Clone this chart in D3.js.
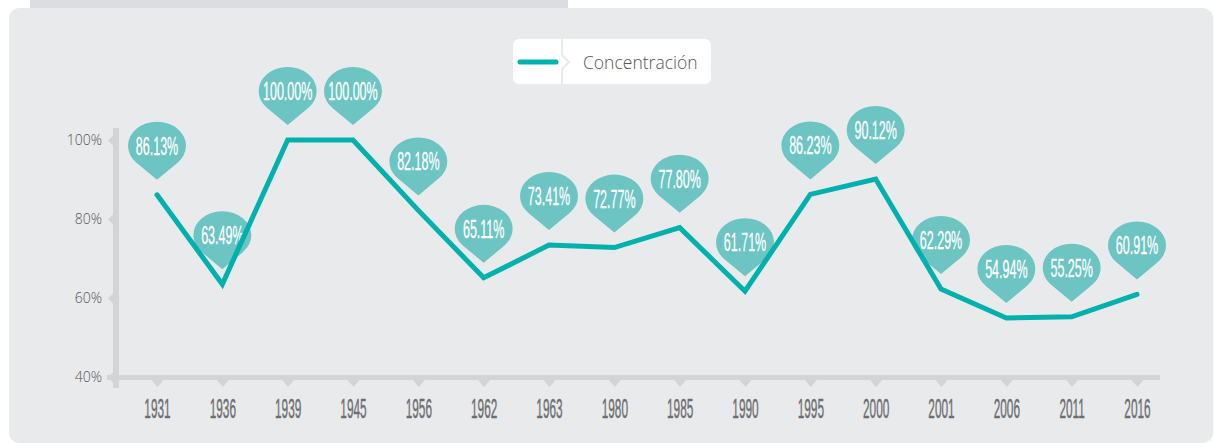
<!DOCTYPE html>
<html>
<head>
<meta charset="utf-8">
<script src="https://cdn.jsdelivr.net/npm/d3@7"></script>
<style>
  html, body { margin: 0; padding: 0; background: #ffffff; }
  svg { display: block; }
</style>
</head>
<body>
<svg id="chart" width="1214" height="443"></svg>
<script>
// Concentration by year
const years = ["1931", "1936", "1939", "1945", "1956", "1962", "1963", "1980",
               "1985", "1990", "1995", "2000", "2001", "2006", "2011", "2016"];
const concentracion = [86.13, 63.49, 100.00, 100.00, 82.18, 65.11, 73.41, 72.77,
                       77.80, 61.71, 86.23, 90.12, 62.29, 54.94, 55.25, 60.91];
const yTickValues = [40, 60, 80, 100];
const seriesName = "Concentración";

const teal = "#00b1ad";
const pinFill = "#6cc4c3";
const axisGrey = "#d3d4d6";
const panelFill = "#e9eaec";

const svg = d3.select("#chart");

// page background pieces
svg.append("rect").attr("x", 30).attr("y", -10).attr("width", 538).attr("height", 18)
  .attr("fill", "#dddde1");
svg.append("rect").attr("x", 9).attr("y", 8).attr("width", 1204).attr("height", 435)
  .attr("rx", 10).attr("fill", panelFill);

const x = d3.scalePoint().domain(years).range([157, 1137]);
const y = d3.scaleLinear().domain([40, 100]).range([377, 140]);

// axis bars
svg.append("rect").attr("x", 113).attr("y", 128).attr("width", 6).attr("height", 260)
  .attr("fill", axisGrey);
svg.append("rect").attr("x", 107).attr("y", 375).attr("width", 1053).attr("height", 5)
  .attr("fill", axisGrey);

// y axis ticks and labels
const yAxis = d3.axisLeft(y).tickValues(yTickValues).tickSize(0).tickPadding(11)
  .tickFormat(d => d + "%");
const gy = svg.append("g").attr("transform", "translate(113,0)").call(yAxis);
gy.select(".domain").remove();
gy.selectAll(".tick text")
  .attr("font-family", "'Open Sans', sans-serif")
  .attr("font-weight", 300)
  .attr("font-size", 14)
  .attr("fill", "#555555");
gy.selectAll(".tick").append("path")
  .attr("d", "M0,-5 L-5,0 L0,5 Z")
  .attr("fill", axisGrey);

// x axis ticks and labels
const xAxis = d3.axisBottom(x).tickSize(0).tickPadding(0);
const gx = svg.append("g").attr("transform", "translate(0,380)").call(xAxis);
gx.select(".domain").remove();
gx.selectAll(".tick").append("path")
  .attr("d", "M-6,0 L0,7 L6,0 Z")
  .attr("fill", axisGrey);
gx.selectAll(".tick text")
  .attr("y", 0).attr("dy", null)
  .attr("transform", "translate(0,38) scale(0.43,1)")
  .attr("font-family", "'Liberation Sans', Arial, sans-serif")
  .attr("font-size", 27.5)
  .attr("fill", "#6d6e71")
  .attr("stroke", "#6d6e71")
  .attr("stroke-width", 0.4);

// value pins
const rx = 29, ry = 24, centerAbove = 34, lift = 15;
function pinPath() {
  const D = centerAbove * rx / ry;
  const ty = (rx * rx / D) * ry / rx;
  const tx = rx * Math.sqrt(1 - (rx / D) * (rx / D));
  return `M0,0 L${tx},${-centerAbove + ty} A${rx},${ry} 0 1 0 ${-tx},${-centerAbove + ty} Z`;
}
const pins = svg.append("g").selectAll("g").data(years).join("g")
  .attr("transform", (d, i) => `translate(${x(d)},${y(concentracion[i]) - lift})`);
pins.append("path").attr("d", pinPath()).attr("fill", pinFill);
pins.append("text")
  .attr("transform", `translate(0,${-centerAbove + 9}) scale(0.5,1)`)
  .attr("text-anchor", "middle")
  .attr("font-family", "'Liberation Sans', Arial, sans-serif")
  .attr("font-size", 25)
  .attr("fill", "#ffffff")
  .attr("stroke", "#ffffff")
  .attr("stroke-width", 0.3)
  .text((d, i) => d3.format(".2f")(concentracion[i]) + "%");

// series line
const line = d3.line().x((d, i) => x(years[i])).y(d => y(d));
svg.append("path").datum(concentracion)
  .attr("d", line)
  .attr("fill", "none")
  .attr("stroke", teal)
  .attr("stroke-width", 5)
  .attr("stroke-linejoin", "miter")
  .attr("stroke-linecap", "round");

// legend
const lg = svg.append("g");
lg.append("rect").attr("x", 513).attr("y", 39).attr("width", 198).attr("height", 45)
  .attr("rx", 6).attr("fill", "#ffffff");
lg.append("path").attr("d", "M562,39 L562,55 L569,62 L562,69 L562,84")
  .attr("fill", "none").attr("stroke", panelFill).attr("stroke-width", 2);
lg.append("line").attr("x1", 520).attr("x2", 556).attr("y1", 62).attr("y2", 62)
  .attr("stroke", teal).attr("stroke-width", 5).attr("stroke-linecap", "round");
lg.append("text").attr("x", 583).attr("y", 68.5)
  .attr("font-family", "'Open Sans', sans-serif")
  .attr("font-weight", 300)
  .attr("font-size", 17.5)
  .attr("fill", "#555555")
  .text(seriesName);
</script>
</body>
</html>
